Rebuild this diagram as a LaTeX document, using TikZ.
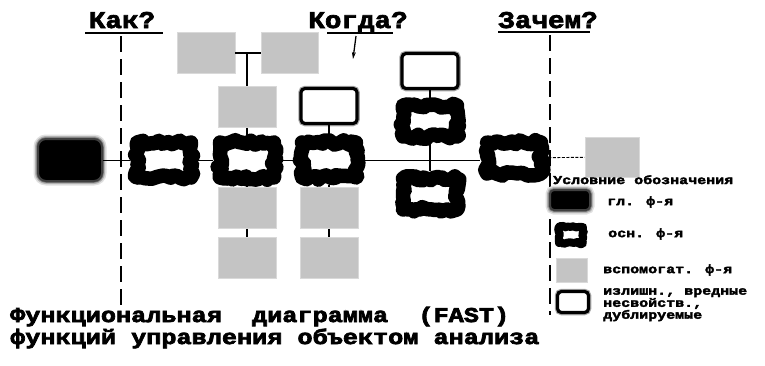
\documentclass[tikz,border=0pt]{standalone}
\usepackage{fontspec}
\usetikzlibrary{decorations.pathmorphing,arrows.meta}
\newfontfamily\hdrfont[FakeStretch=1.15, FakeBold=3]{Liberation Mono}
\newfontfamily\botfont[FakeStretch=1.2, FakeBold=3.5]{Liberation Mono}
\newfontfamily\legfont[FakeStretch=1.25, FakeBold=3]{Liberation Mono}
\begin{document}
\begin{tikzpicture}[x=1pt,y=-1pt,
  cloud/.style={draw=black, line width=14.5pt, line join=round, inner sep=0pt,
    minimum width=#1, decorate, decoration={random steps, segment length=3.5pt, amplitude=2.4pt}},
  cloud/.default=54pt,
  greybox/.style={fill=black!23, draw=black!15, line width=0.8pt, inner sep=0pt},
  whitebox/.style={fill=white, draw=black, line width=3.2pt, rounded corners=4pt, inner sep=0pt,
    preaction={draw=black!35, line width=5.5pt}},
  blkbox/.style={fill=black, draw=black!75, line width=2pt, rounded corners=8pt, inner sep=0pt,
    preaction={draw=black!12, line width=9pt},
    preaction={draw=black!30, line width=6pt},
    preaction={draw=black!55, line width=3.5pt}},
  hline/.style={line width=0.9pt},
  vline/.style={line width=1.6pt},
  qline/.style={line width=1.4pt, dash pattern=on 16pt off 7pt},
  hdr/.style={font=\hdrfont\bfseries\fontsize{24}{26}\selectfont, inner sep=0pt},
  bot/.style={font=\botfont\bfseries\fontsize{21}{22}\selectfont, inner sep=0pt, anchor=base west},
  leg/.style={font=\legfont\bfseries\fontsize{12}{9.5}\selectfont, inner sep=0pt, align=left}
]
\useasboundingbox (0,0) rectangle (765,365);
\pgfmathsetseed{11}

% headers
\node[hdr, anchor=base] (hk) at (122,28) {Как?};
\node[hdr, anchor=base] (hw) at (358,28) {Когда?};
\node[hdr, anchor=base] (hz) at (548,28) {Зачем?};
\coordinate (uk1) at (85,33); \coordinate (uk2) at (163,33);
\coordinate (uw1) at (327,33); \coordinate (uw2) at (393,33);
\coordinate (uz1) at (498,32); \coordinate (uz2) at (590,32);
\draw[line width=1.2pt] (uk1) -- (uk2);
\draw[line width=1.2pt] (uw1) -- (uw2);
\draw[line width=1.2pt] (uz1) -- (uz2);
\coordinate (ar1) at (356,36); \coordinate (ar2) at (353,59);
\draw[line width=1.3pt, -{Stealth[length=7pt,width=4pt]}] (ar1) -- (ar2);

% dashed question lines
\coordinate (k1) at (121,36); \coordinate (k2) at (121,312);
\coordinate (z1) at (550,35); \coordinate (z2) at (550,315);
\draw[qline] (k1) -- (k2);
\draw[qline] (z1) -- (z2);

% nodes
\node[blkbox, minimum width=64pt, minimum height=42pt] (blk) at (70,160) {};
\node[cloud, minimum height=35pt] (c1) at (164,160) {};
\node[cloud, minimum height=35pt] (c2) at (247,160) {};
\node[cloud, minimum height=35pt] (c3) at (329,160) {};
\node[cloud, minimum height=31pt] (c4) at (430,121) {};
\node[cloud, minimum height=31pt] (c5) at (430,194) {};
\node[cloud, minimum height=31pt] (c6) at (514,158) {};

\node[greybox, minimum width=58pt, minimum height=41pt] (gtl) at (206,53) {};
\node[greybox, minimum width=57pt, minimum height=41pt] (gtr) at (290,53) {};
\node[greybox, minimum width=58pt, minimum height=41pt] (gm) at (247,107) {};
\node[greybox, minimum width=58pt, minimum height=41pt] (gb1) at (247,208) {};
\node[greybox, minimum width=58pt, minimum height=41pt] (gb2) at (247,258) {};
\node[greybox, minimum width=58pt, minimum height=41pt] (gb3) at (329,208) {};
\node[greybox, minimum width=58pt, minimum height=41pt] (gb4) at (329,258) {};
\node[greybox, minimum width=54pt, minimum height=40pt] (gr) at (612,157) {};

\node[whitebox, minimum width=56pt, minimum height=35pt] (w1) at (430,71) {};
\node[whitebox, minimum width=56pt, minimum height=35pt] (w2) at (329,106) {};

% connectors
\coordinate (tj) at (247,53);
\draw[hline] (blk) -- (c1);
\draw[hline] (c1) -- (c2);
\draw[hline] (c2) -- (c3);
\draw[hline] (c3.east) -- (c6.west |- c3.east);
\draw[hline, dash pattern=on 3pt off 1.5pt] (c6) -- (gr);
\draw[vline] (gtl) -- (gtr);
\draw[vline] (tj) -- (gm);
\draw[vline] (gm) -- (c2);
\draw[vline] (c2) -- (gb1);
\draw[vline] (gb1) -- (gb2);
\draw[vline] (w2) -- (c3);
\draw[vline] (c3) -- (gb3);
\draw[vline] (gb3) -- (gb4);
\draw[vline] (w1) -- (c4);
\draw[vline] (c4) -- (c5);

% legend
\node[leg, anchor=base west] (lt) at (553,184) {Условние обозначения};
\node[blkbox, minimum width=40pt, minimum height=20pt, rounded corners=4pt] (l1) at (570,200) {};
\node[leg, anchor=west] (l1t) at (607,202) {гл. ф-я};
\node[cloud=24pt, minimum height=16pt, line width=8pt, decoration={random steps, segment length=2.5pt, amplitude=1.2pt}] (l2) at (571,235) {};
\node[leg, anchor=west] (l2t) at (608,234) {осн. ф-я};
\node[greybox, minimum width=31pt, minimum height=24pt] (l3) at (572,270) {};
\node[leg, anchor=west] (l3t) at (603,270) {вспомогат. ф-я};
\node[whitebox, minimum width=31pt, minimum height=21pt] (l4) at (573,302) {};
\node[leg, anchor=north west] (l4t) at (603,288) {излишн., вредные\\несвойств.,\\дублируемые};

% bottom caption
\node[bot] (b1) at (10,322) {Функциональная\ \ диаграмма\ \ (FAST)};
\node[bot] (b2) at (10,344) {функций управления объектом анализа};
\end{tikzpicture}
\end{document}
